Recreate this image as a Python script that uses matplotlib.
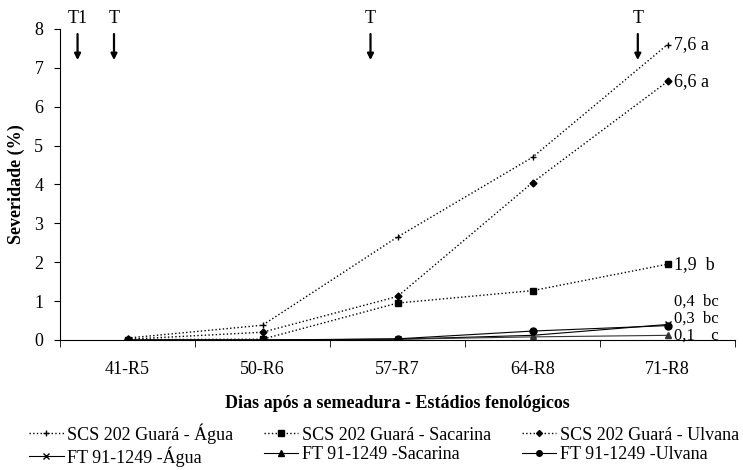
import matplotlib.pyplot as plt
from matplotlib.lines import Line2D

plt.rcParams['font.family'] = ['Liberation Serif', 'DejaVu Serif']

estadios = ["41-R5", "50-R6", "57-R7", "64-R8", "71-R8"]

scs_agua = [0.05, 0.38, 2.65, 4.7, 7.6]
scs_sacarina = [0.01, 0.02, 0.95, 1.27, 1.95]
scs_ulvana = [0.02, 0.2, 1.12, 4.05, 6.65]
ft_agua = [0.0, 0.0, 0.02, 0.12, 0.4]
ft_sacarina = [0.0, 0.0, 0.02, 0.08, 0.12]
ft_ulvana = [0.0, 0.0, 0.03, 0.23, 0.37]

rotulos_finais = ["7,6 a", "6,6 a", "1,9  b", "0,4  bc", "0,3  bc", "0,1    c"]
rotulos_y = [7.6, 6.65, 1.93, 0.98, 0.54, 0.1]
rotulos_tam = [13, 13, 13, 12, 12, 12]

# aplicacoes (posicao no eixo x em unidades de categoria)
aplic_x = [-0.37, -0.1, 1.8, 3.78]
aplic_txt = ["T1", "T", "T", "T"]

fig = plt.figure(figsize=(7.43, 4.70), dpi=100)
ax = fig.add_axes([60 / 743, 130 / 470, 675 / 743, 311 / 470])

x = list(range(len(estadios)))
ax.plot(x, scs_agua, color='black', ls=':', lw=1, marker='+', ms=5, mew=1)
ax.plot(x, scs_sacarina, color='black', ls=':', lw=1, marker='s', ms=4.5)
ax.plot(x, scs_ulvana, color='black', ls=':', lw=1, marker='D', ms=3.5)
ax.plot(x, ft_agua, color='black', lw=0.8, marker='x', ms=4)
ax.plot(x, ft_sacarina, color='#333333', lw=0.8, marker='^', ms=4.5)
ax.plot(x, ft_ulvana, color='black', lw=0.8, marker='o', ms=5)

for txt, yv, tam in zip(rotulos_finais, rotulos_y, rotulos_tam):
    ax.text(4.05, yv, txt, fontsize=tam, va='center', ha='left')

for xa, t in zip(aplic_x, aplic_txt):
    ax.annotate('', xy=(xa, 7.2), xytext=(xa, 7.87),
                arrowprops=dict(arrowstyle='-|>', color='black', lw=1.6,
                                mutation_scale=9, shrinkA=0, shrinkB=0))
    ax.text(xa, 8.05, t, fontsize=13, ha='center', va='bottom')

ax.set_xlim(-0.5, 4.5)
ax.set_ylim(0, 8)
ax.set_yticks(range(9))
ax.set_xticks(x)
ax.set_xticklabels(estadios)
ax.set_xticks([i - 0.5 for i in range(6)], minor=True)
ax.tick_params(axis='x', which='major', length=0, pad=15, labelsize=13)
ax.tick_params(axis='x', which='minor', length=5, direction='out')
ax.tick_params(axis='y', length=4, direction='out', labelsize=13, pad=8)
ax.spines['top'].set_visible(False)
ax.spines['right'].set_visible(False)
ax.set_ylabel('Severidade (%)', fontsize=13, fontweight='bold')
ax.yaxis.set_label_coords(-35 / 675, 0.5)
ax.set_xlabel('Dias após a semeadura - Estádios fenológicos', fontsize=13,
              fontweight='bold', labelpad=12)

handles = [
    Line2D([], [], color='black', ls=':', lw=1, marker='+', ms=5),
    Line2D([], [], color='black', lw=0.8, marker='x', ms=4),
    Line2D([], [], color='black', ls=':', lw=1, marker='s', ms=4),
    Line2D([], [], color='black', lw=0.8, marker='^', ms=4),
    Line2D([], [], color='black', ls=':', lw=1, marker='D', ms=3),
    Line2D([], [], color='black', lw=0.8, marker='o', ms=4),
]
labels = [
    "SCS 202 Guará - Água", "FT 91-1249 -Água",
    "SCS 202 Guará - Sacarina", "FT 91-1249 -Sacarina",
    "SCS 202 Guará - Ulvana", "FT 91-1249 -Ulvana",
]
fig.legend(handles, labels, ncol=3, loc='lower left',
           bbox_to_anchor=(22 / 743, -4 / 470), frameon=False, fontsize=13,
           handlelength=1.9, handletextpad=0.2, columnspacing=1.7,
           labelspacing=0.15, borderaxespad=0)

fig.savefig('out.png', dpi=100)
